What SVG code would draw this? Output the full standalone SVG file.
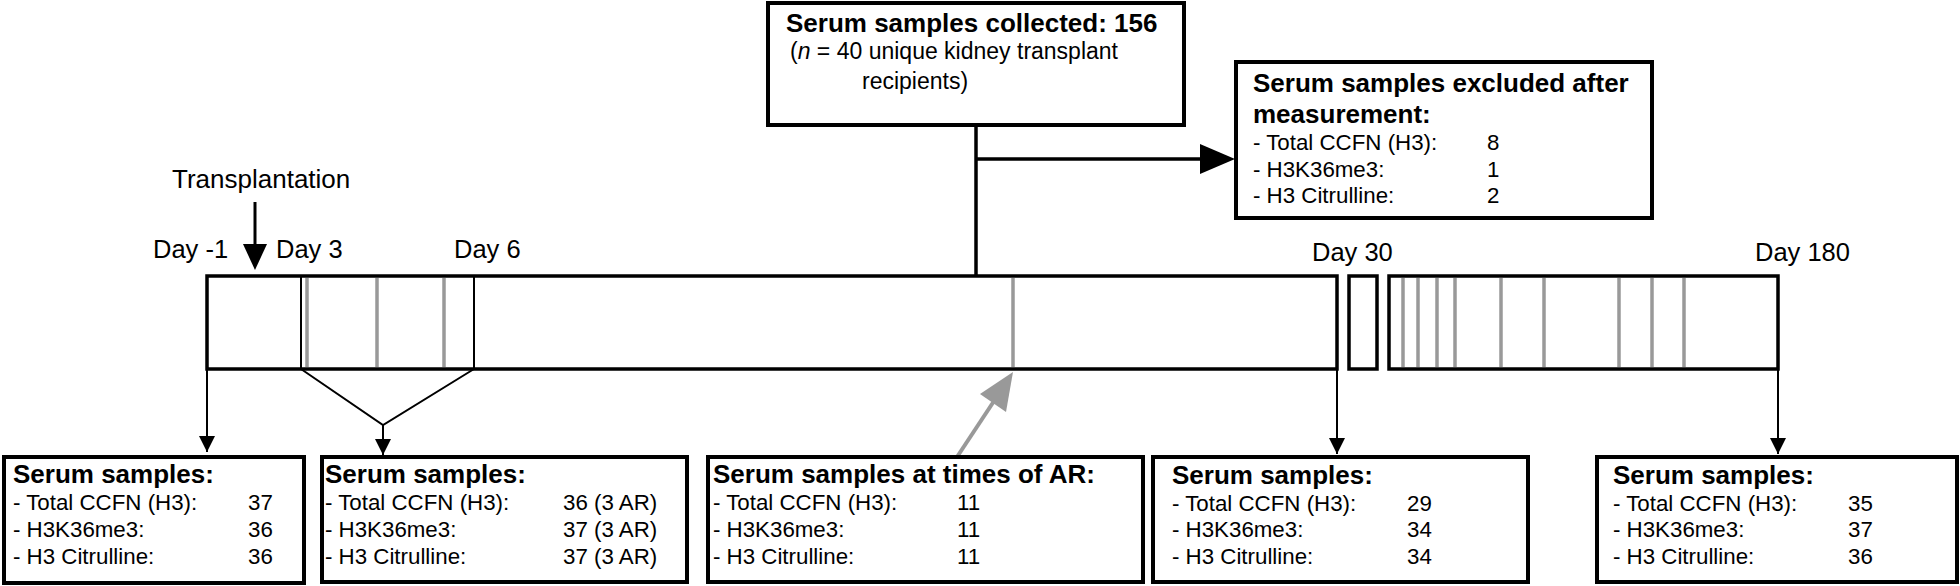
<svg xmlns="http://www.w3.org/2000/svg" width="1960" height="586" viewBox="0 0 1960 586">
<defs>
<style>
.box{fill:#fff;stroke:#000;stroke-width:4}
.bar{fill:#fff;stroke:#000;stroke-width:3.5}
.gray{stroke:#999;stroke-width:3.5}
.thin{stroke:#000;stroke-width:2;fill:none}
.t{font-family:"Liberation Sans",Arial,sans-serif;font-size:22.3px;fill:#000}
.n{font-family:"Liberation Sans",Arial,sans-serif;font-size:23px;fill:#000}
.b{font-family:"Liberation Sans",Arial,sans-serif;font-size:26px;font-weight:bold;fill:#000}
.d{font-family:"Liberation Sans",Arial,sans-serif;font-size:25.5px;fill:#000}
</style>
<marker id="ah" markerUnits="userSpaceOnUse" markerWidth="16" markerHeight="18" refX="16" refY="8" orient="auto"><path d="M0,0 L16,8 L0,16 Z" fill="#000"/></marker>
</defs>
<rect width="1960" height="586" fill="#fff"/>

<g id="timeline">
<rect class="bar" x="207" y="276" width="1130" height="93"/>
<rect class="bar" x="1349" y="276" width="28" height="93"/>
<rect class="bar" x="1389" y="276" width="389" height="93"/>
<g class="gray">
<line x1="307" y1="278" x2="307" y2="367"/>
<line x1="377" y1="278" x2="377" y2="367"/>
<line x1="444" y1="278" x2="444" y2="367"/>
<line x1="1013" y1="278" x2="1013" y2="367"/>
<line x1="1403" y1="278" x2="1403" y2="367"/>
<line x1="1418" y1="278" x2="1418" y2="367"/>
<line x1="1437" y1="278" x2="1437" y2="367"/>
<line x1="1455" y1="278" x2="1455" y2="367"/>
<line x1="1501" y1="278" x2="1501" y2="367"/>
<line x1="1544" y1="278" x2="1544" y2="367"/>
<line x1="1619" y1="278" x2="1619" y2="367"/>
<line x1="1652" y1="278" x2="1652" y2="367"/>
<line x1="1684" y1="278" x2="1684" y2="367"/>
</g>
<line class="thin" x1="301" y1="276" x2="301" y2="369"/>
<line class="thin" x1="474" y1="276" x2="474" y2="369"/>
<text class="d" x="153" y="258">Day -1</text>
<text class="d" x="276" y="258">Day 3</text>
<text class="d" x="454" y="258">Day 6</text>
<text class="d" x="1312" y="261">Day 30</text>
<text class="d" x="1755" y="261">Day 180</text>
<text class="d" x="172" y="188" style="font-size:26px">Transplantation</text>
</g>

<g id="connectors">
<line x1="255" y1="202" x2="255" y2="245" stroke="#000" stroke-width="3"/>
<path d="M243,244 L267,244 L255,270 Z" fill="#000"/>
<line x1="976" y1="125" x2="976" y2="276" stroke="#000" stroke-width="3.5"/>
<line x1="976" y1="159" x2="1202" y2="159" stroke="#000" stroke-width="3.5"/>
<path d="M1200,144 L1235,159 L1200,174 Z" fill="#000"/>
<line class="thin" x1="207" y1="369" x2="207" y2="452" marker-end="url(#ah)"/>
<polyline class="thin" points="301,369 383,425 474,369"/>
<line class="thin" x1="383" y1="425" x2="383" y2="455" marker-end="url(#ah)"/>
<line x1="957" y1="457" x2="998" y2="395" stroke="#999" stroke-width="4"/>
<path d="M1013,372 L980,394 L1006,412 Z" fill="#999"/>
<line class="thin" x1="1337" y1="369" x2="1337" y2="454" marker-end="url(#ah)"/>
<line class="thin" x1="1778" y1="369" x2="1778" y2="454" marker-end="url(#ah)"/>
</g>

<g id="collected">
<rect class="box" x="768" y="3" width="416" height="122"/>
<text class="b" x="786" y="32">Serum samples collected: 156</text>
<text class="n" x="790" y="59">(<tspan font-style="italic">n</tspan> = 40 unique kidney transplant</text>
<text class="n" x="862" y="89">recipients)</text>
</g>

<g id="excluded">
<rect class="box" x="1236" y="62" width="416" height="156"/>
<text class="b" x="1253" y="92">Serum samples excluded after</text>
<text class="b" x="1253" y="123">measurement:</text>
<text class="t" x="1253" y="150">- Total CCFN (H3):</text><text class="t" x="1487" y="150">8</text>
<text class="t" x="1253" y="177">- H3K36me3:</text><text class="t" x="1487" y="177">1</text>
<text class="t" x="1253" y="203">- H3 Citrulline:</text><text class="t" x="1487" y="203">2</text>
</g>

<g id="box-day-1">
<rect class="box" x="4" y="457" width="300" height="126"/>
<text class="b" x="13" y="483">Serum samples:</text>
<text class="t" x="13" y="510">- Total CCFN (H3):</text><text class="t" x="248" y="510">37</text>
<text class="t" x="13" y="537">- H3K36me3:</text><text class="t" x="248" y="537">36</text>
<text class="t" x="13" y="564">- H3 Citrulline:</text><text class="t" x="248" y="564">36</text>
</g>

<g id="box-day3-6">
<rect class="box" x="322" y="457" width="365" height="125"/>
<text class="b" x="325" y="483">Serum samples:</text>
<text class="t" x="325" y="510">- Total CCFN (H3):</text><text class="t" x="563" y="510">36 (3 AR)</text>
<text class="t" x="325" y="537">- H3K36me3:</text><text class="t" x="563" y="537">37 (3 AR)</text>
<text class="t" x="325" y="564">- H3 Citrulline:</text><text class="t" x="563" y="564">37 (3 AR)</text>
</g>

<g id="box-ar">
<rect class="box" x="708" y="457" width="435" height="125"/>
<text class="b" x="713" y="483">Serum samples at times of AR:</text>
<text class="t" x="713" y="510">- Total CCFN (H3):</text><text class="t" x="957" y="510">11</text>
<text class="t" x="713" y="537">- H3K36me3:</text><text class="t" x="957" y="537">11</text>
<text class="t" x="713" y="564">- H3 Citrulline:</text><text class="t" x="957" y="564">11</text>
</g>

<g id="box-day30">
<rect class="box" x="1153" y="457" width="375" height="125"/>
<text class="b" x="1172" y="484">Serum samples:</text>
<text class="t" x="1172" y="511">- Total CCFN (H3):</text><text class="t" x="1407" y="511">29</text>
<text class="t" x="1172" y="537">- H3K36me3:</text><text class="t" x="1407" y="537">34</text>
<text class="t" x="1172" y="564">- H3 Citrulline:</text><text class="t" x="1407" y="564">34</text>
</g>

<g id="box-day180">
<rect class="box" x="1597" y="457" width="360" height="125"/>
<text class="b" x="1613" y="484">Serum samples:</text>
<text class="t" x="1613" y="511">- Total CCFN (H3):</text><text class="t" x="1848" y="511">35</text>
<text class="t" x="1613" y="537">- H3K36me3:</text><text class="t" x="1848" y="537">37</text>
<text class="t" x="1613" y="564">- H3 Citrulline:</text><text class="t" x="1848" y="564">36</text>
</g>
</svg>
